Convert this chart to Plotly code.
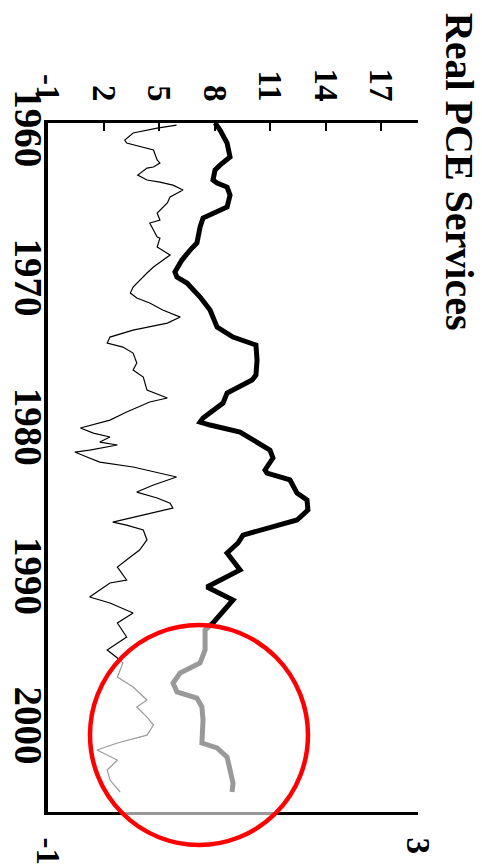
import plotly.graph_objects as go

# Real PCE services, read against the left-hand scale (thick line)
services_years = [
    1959.26, 1959.73, 1960.60, 1961.54, 1962.08, 1962.41, 1963.08, 1963.28, 1963.55, 1964.09,
    1964.89, 1965.29, 1965.63, 1966.23, 1966.90, 1967.30, 1967.77, 1968.44, 1969.24, 1969.58,
    1969.98, 1970.92, 1971.79, 1972.93, 1973.60, 1974.00, 1974.13, 1975.14, 1976.14, 1976.48,
    1977.35, 1978.02, 1979.02, 1979.29, 1979.49, 1979.96, 1980.50, 1981.17, 1981.70, 1982.50,
    1982.71, 1983.17, 1984.05, 1984.51, 1985.18, 1985.85, 1986.86, 1987.39, 1988.06, 1989.20,
    1990.34, 1991.21, 1992.75, 1993.22, 1994.56, 1995.43, 1996.10, 1996.77, 1997.37, 1997.78,
    1998.38, 1999.25, 2000.79, 2001.12, 2001.73, 2002.60, 2003.47, 2004.07,
]
services_values = [
    8.03, 8.30, 8.68, 8.84, 8.30, 8.03, 7.92, 8.14, 8.68, 8.84,
    8.68, 7.92, 7.38, 7.22, 7.11, 7.05, 6.68, 6.24, 5.86, 5.97,
    6.51, 7.22, 7.76, 8.14, 9.00, 9.92, 10.24, 10.30, 10.24, 10.03,
    8.68, 8.46, 7.38, 7.22, 7.76, 9.38, 10.08, 11.00, 11.16, 10.73,
    10.84, 12.08, 12.46, 13.00, 13.05, 12.46, 9.54, 9.27, 8.68, 9.38,
    7.59, 9.00, 7.92, 7.49, 7.49, 7.22, 6.14, 5.76, 5.97, 7.05,
    7.32, 7.38, 7.32, 8.14, 8.68, 8.84, 9.00, 8.95,
]

# Companion series, read against the right-hand scale (thin line)
growth_years = [
    1959.40, 1959.60, 1959.93, 1960.40, 1960.60, 1960.87, 1961.07, 1961.74, 1961.94, 1962.21,
    1962.28, 1962.75, 1963.08, 1963.22, 1963.42, 1963.75, 1964.22, 1964.62, 1965.09, 1965.29,
    1965.76, 1965.96, 1966.43, 1966.90, 1966.97, 1967.57, 1968.10, 1968.57, 1968.91, 1969.31,
    1970.25, 1970.65, 1970.98, 1971.32, 1971.79, 1972.26, 1972.66, 1973.13, 1973.60, 1974.00,
    1974.27, 1974.67, 1975.34, 1975.81, 1976.28, 1977.15, 1977.68, 1977.95, 1978.62, 1979.16,
    1979.69, 1980.03, 1980.29, 1980.63, 1980.83, 1981.17, 1981.30, 1981.63, 1981.97, 1982.30,
    1982.97, 1983.51, 1983.98, 1984.38, 1984.72, 1985.05, 1985.52, 1985.99, 1986.19, 1986.52,
    1987.19, 1987.86, 1988.33, 1989.00, 1989.87, 1990.07, 1991.01, 1991.41, 1992.08, 1992.75,
    1993.69, 1994.56, 1995.10, 1995.43, 1996.37, 1997.04, 1997.91, 1998.38, 1999.05, 1999.59,
    2000.26, 2000.79, 2001.26, 2001.93, 2002.60, 2003.27, 2004.07,
]
growth_values = [
    0.39, 0.18, -0.08, -0.17, -0.15, 0.03, 0.14, 0.18, 0.21, 0.14,
    0.07, -0.03, 0.07, 0.21, 0.35, 0.46, 0.32, 0.29, 0.21, 0.18,
    0.21, 0.10, 0.14, 0.18, 0.21, 0.18, 0.32, 0.21, 0.14, 0.07,
    -0.08, -0.11, -0.04, 0.10, 0.24, 0.43, 0.29, -0.08, -0.33, -0.36,
    -0.19, -0.08, -0.04, -0.08, 0.03, 0.07, 0.29, 0.10, -0.15, -0.33,
    -0.65, -0.51, -0.33, -0.44, -0.25, -0.55, -0.71, -0.58, -0.44, -0.08,
    0.39, 0.14, -0.04, 0.18, 0.32, 0.35, 0.03, -0.30, -0.15, 0.03,
    0.07, -0.01, -0.11, -0.25, -0.15, -0.33, -0.55, -0.33, -0.08, -0.25,
    -0.15, -0.36, -0.25, -0.19, -0.25, -0.08, 0.07, -0.04, 0.07, 0.14,
    0.07, -0.25, -0.47, -0.25, -0.36, -0.33, -0.22,
]

year_labels = [1960, 1970, 1980, 1990, 2000]
left_ticks = [-1, 2, 5, 8, 11, 14, 17]
right_ticks = [-1, 3]

FONT = "Liberation Serif"
YEAR_RANGE = [2005.41, 1959.26]          # reversed: earliest year at the top
year_marks = [1960.4 + 2 * k for k in range(23)]

fig = go.Figure()

fig.add_trace(go.Scatter(
    x=services_values, y=services_years, mode="lines",
    line=dict(color="black", width=5), xaxis="x", yaxis="y",
    showlegend=False,
))
fig.add_trace(go.Scatter(
    x=growth_values, y=growth_years, mode="lines",
    line=dict(color="black", width=1.2), xaxis="x2", yaxis="y",
    showlegend=False,
))

fig.update_layout(
    width=482, height=865, autosize=False,
    margin=dict(l=48, r=64, t=123, b=53),
    paper_bgcolor="white", plot_bgcolor="white",
    font=dict(family=FONT, color="black"),
    showlegend=False,
    xaxis=dict(
        range=[-1, 19], side="top", anchor="y", automargin=False,
        tickmode="array", tickvals=left_ticks, ticktext=[str(v) for v in left_ticks],
        ticks="inside", ticklen=8, tickwidth=1.5, tickcolor="black",
        tickangle=90, ticklabelstandoff=7,
        tickfont=dict(family=FONT, size=33, weight="bold", color="black"),
        showline=True, linecolor="black", linewidth=3,
        showgrid=False, zeroline=False,
    ),
    xaxis2=dict(
        range=[-1, 3], side="bottom", overlaying="x", anchor="y", automargin=False,
        tickmode="array", tickvals=right_ticks, ticktext=[str(v) for v in right_ticks],
        ticks="inside", ticklen=8, tickwidth=1.5, tickcolor="black",
        tickangle=90, ticklabelstandoff=16,
        tickfont=dict(family=FONT, size=33, weight="bold", color="black"),
        showline=True, linecolor="black", linewidth=3,
        showgrid=False, zeroline=False,
    ),
    yaxis=dict(
        range=YEAR_RANGE, side="left", anchor="x", automargin=False,
        tickmode="array", tickvals=year_labels, ticktext=[str(v) for v in year_labels],
        ticks="", tickangle=90, ticklabelstandoff=-18,
        tickfont=dict(family=FONT, size=39, weight="bold", color="black"),
        showline=True, linecolor="black", linewidth=4,
        showgrid=False, zeroline=False,
    ),
    yaxis2=dict(
        range=YEAR_RANGE, side="left", overlaying="y", anchor="x", automargin=False,
        tickmode="array", tickvals=year_marks,
        ticks="inside", ticklen=8, tickwidth=1.5, tickcolor="black",
        showticklabels=False, showline=False,
        showgrid=False, zeroline=False,
    ),
)

# Title along the right-hand edge
fig.add_annotation(
    text="Real PCE Services", xref="paper", yref="paper",
    x=1.111, y=0.929, xanchor="center", yanchor="middle",
    textangle=90, showarrow=False,
    font=dict(family=FONT, size=40, weight="bold", color="black"),
)

# Highlight ring around the most recent years, washing out what lies inside it
fig.add_shape(
    type="circle", xref="paper", yref="paper",
    x0=0.1135, x1=0.7027, y0=-0.0479, y1=0.2714,
    line=dict(color="#ff0000", width=4.5),
    fillcolor="rgba(255,255,255,0.6)", layer="above",
)

fig.write_html("out.html")
